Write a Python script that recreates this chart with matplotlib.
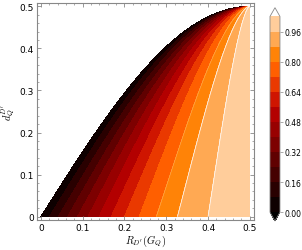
import numpy as np
import matplotlib
matplotlib.use('Agg')
import matplotlib.pyplot as plt
from matplotlib.ticker import MultipleLocator, FuncFormatter

plt.rcParams['mathtext.fontset'] = 'cm'

# contour levels / ticks
LEVELS     = [0.00, 0.08, 0.16, 0.24, 0.32, 0.40, 0.48, 0.56,
              0.64, 0.72, 0.80, 0.88, 0.96, 1.04]
CBAR_TICKS = [0.00, 0.16, 0.32, 0.48, 0.64, 0.80, 0.96]
AXIS_TICKS = [0.0, 0.1, 0.2, 0.3, 0.4, 0.5]
SEAM_LEVELS = [0.88, 0.96]     # light seams visible between the pale bands
FAINT_SEAMS = [0.80]
BEND = 0.3                     # how much the iso-lines lean right near the top


# the field is built on a curvilinear grid: s0 labels an iso-line
# (value 1 - s0^2), w runs from the x axis (w=1) to the corner (0.5, 0.5)
s0 = np.linspace(0, 1, 600)
w = np.linspace(0, 1, 400)
S0, W = np.meshgrid(s0, w)
S = S0 * W ** (1 + BEND * (1 - S0))
X = (1 - S) / 2
Y = 0.5 * np.cos(np.pi * W / 2)
Z = 1 - S0 ** 2

fig = plt.figure(figsize=(3.02, 2.51), dpi=100)
ax = fig.add_axes([0.1215, 0.1195, 0.7195, 0.8645])

cs = ax.contourf(X, Y, Z, levels=LEVELS, cmap='gist_heat',
                 vmin=0, vmax=1.11, extend='both')
ax.contour(X, Y, Z, levels=SEAM_LEVELS, colors='white', linewidths=0.5)
ax.contour(X, Y, Z, levels=FAINT_SEAMS, colors='white', linewidths=0.4, alpha=0.35)

ax.set_xlim(-0.01, 0.51)
ax.set_ylim(-0.008, 0.508)

fmt = FuncFormatter(lambda v, p: '0' if abs(v) < 1e-9 else f'{v:.1f}')
ax.set_xticks(AXIS_TICKS)
ax.set_yticks(AXIS_TICKS)
ax.xaxis.set_major_formatter(fmt)
ax.yaxis.set_major_formatter(fmt)
ax.xaxis.set_minor_locator(MultipleLocator(0.02))
ax.yaxis.set_minor_locator(MultipleLocator(0.02))
ax.tick_params(which='both', direction='in', top=True, right=True,
               color='#888888', labelsize=6.5, pad=2)
ax.tick_params(which='major', length=3, width=0.6)
ax.tick_params(which='minor', length=1.5, width=0.5)
for s in ax.spines.values():
    s.set_color('#888888')
    s.set_linewidth(0.8)

ax.set_xlabel(r"$R_{D'}(G_Q)$", fontsize=7.5, labelpad=1)
ax.set_ylabel(r"$d_Q^{D'}$", fontsize=7.5, labelpad=2)

cax = fig.add_axes([0.894, 0.1155, 0.033, 0.85])
cb = fig.colorbar(cs, cax=cax, ticks=CBAR_TICKS, extendfrac=0.045)
cb.ax.set_yticklabels([f'{t:.2f}' for t in CBAR_TICKS])
cb.ax.tick_params(labelsize=5.5, length=2, width=0.5, color='#888888', pad=1.5)
cb.outline.set_edgecolor('#888888')
cb.outline.set_linewidth(0.6)

fig.savefig('out.png', dpi=100)
